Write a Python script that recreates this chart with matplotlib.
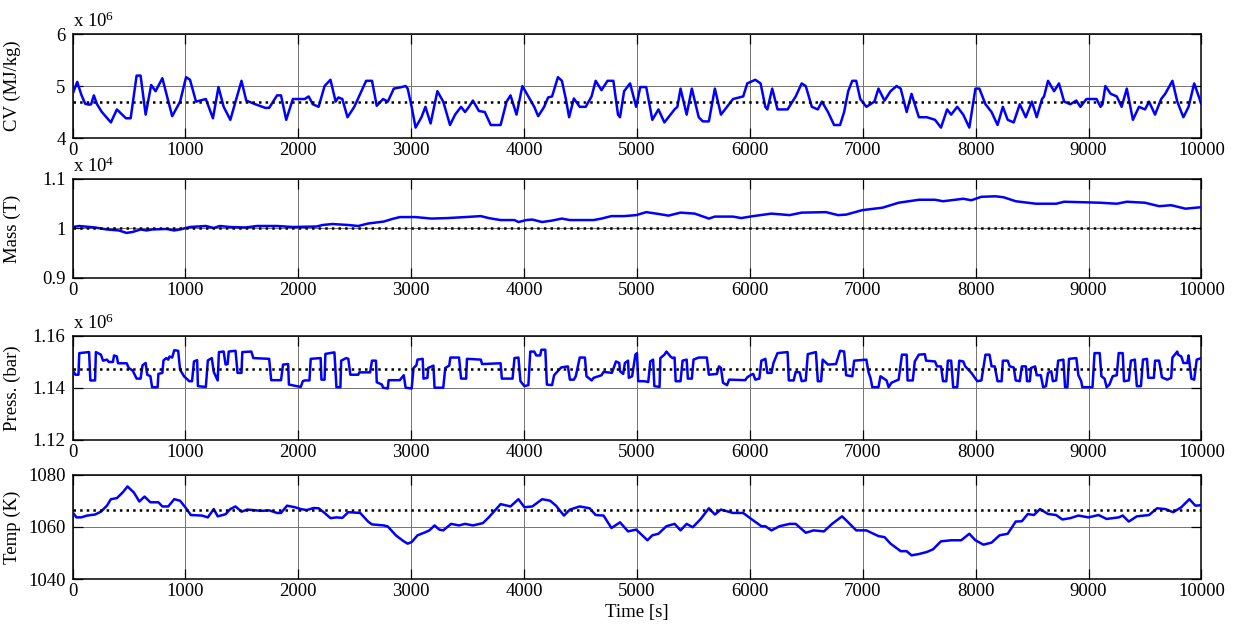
import numpy as np
import matplotlib
matplotlib.use("Agg")
import matplotlib.pyplot as plt
from matplotlib.ticker import FuncFormatter

plt.rcParams['font.family'] = ['Liberation Serif', 'DejaVu Serif']
plt.rcParams['mathtext.fontset'] = 'custom'
plt.rcParams['mathtext.rm'] = 'Liberation Serif'
plt.rcParams['mathtext.it'] = 'Liberation Serif:italic'

time_ticks = np.arange(0, 10001, 1000)

# (time [s], CV [x 1e6 MJ/kg])
cv = np.array([
    (0, 4.84), (42, 5.08), (77, 4.84), (112, 4.66), (147, 4.64), (165, 4.65),
    (189, 4.82), (217, 4.65), (260, 4.50), (340, 4.30), (393, 4.55), (473, 4.38),
    (515, 4.38), (568, 5.20), (603, 5.20), (648, 4.45), (697, 5.02), (736, 4.90),
    (796, 5.15), (883, 4.42), (953, 4.70), (1006, 5.17), (1041, 5.12), (1094, 4.70),
    (1181, 4.75), (1244, 4.38), (1293, 4.98), (1339, 4.60), (1398, 4.35), (1444, 4.70),
    (1497, 5.10), (1539, 4.72), (1619, 4.65), (1707, 4.58), (1742, 4.58), (1812, 4.82),
    (1847, 4.82), (1893, 4.35), (1952, 4.75), (2057, 4.75), (2092, 4.80), (2128, 4.65),
    (2180, 4.60), (2233, 5.00), (2285, 5.12), (2331, 4.70), (2355, 4.78), (2390, 4.75),
    (2436, 4.40), (2496, 4.60), (2548, 4.85), (2601, 5.10), (2653, 5.10), (2695, 4.62),
    (2751, 4.75), (2793, 4.70), (2846, 4.95), (2916, 4.98), (2951, 5.00), (2969, 4.95),
    (3004, 4.60), (3039, 4.20), (3091, 4.40), (3126, 4.60), (3172, 4.28), (3232, 4.90),
    (3284, 4.70), (3344, 4.25), (3389, 4.45), (3442, 4.60), (3477, 4.50), (3512, 4.60),
    (3547, 4.72), (3600, 4.52), (3652, 4.50), (3705, 4.25), (3792, 4.25), (3845, 4.70),
    (3880, 4.82), (3933, 4.45), (3985, 5.00), (4038, 4.80), (4090, 4.60), (4125, 4.42),
    (4178, 4.60), (4213, 4.78), (4248, 4.80), (4300, 5.17), (4335, 5.10), (4370, 4.75),
    (4399, 4.40), (4441, 4.76), (4493, 4.60), (4546, 4.60), (4598, 4.80), (4634, 5.10),
    (4686, 4.92), (4739, 5.10), (4791, 5.10), (4832, 4.45), (4850, 4.40), (4886, 4.90),
    (4939, 5.05), (4993, 4.60), (5029, 4.98), (5082, 4.98), (5136, 4.35), (5190, 4.55),
    (5243, 4.30), (5297, 4.45), (5333, 4.55), (5358, 4.60), (5386, 4.95), (5440, 4.45),
    (5486, 4.95), (5547, 4.40), (5583, 4.32), (5637, 4.32), (5690, 4.95), (5744, 4.45),
    (5798, 4.60), (5851, 4.75), (5941, 4.80), (5977, 5.05), (6048, 5.12), (6095, 5.05),
    (6137, 4.60), (6155, 4.55), (6198, 4.95), (6245, 4.55), (6334, 4.55), (6406, 4.80),
    (6459, 5.05), (6495, 5.00), (6549, 4.60), (6602, 4.55), (6638, 4.70), (6692, 4.50),
    (6746, 4.25), (6799, 4.25), (6835, 4.50), (6871, 4.90), (6907, 5.10), (6942, 5.10),
    (6978, 4.75), (7032, 4.60), (7103, 4.70), (7139, 4.95), (7193, 4.72), (7246, 4.90),
    (7300, 5.00), (7336, 4.95), (7389, 4.50), (7432, 4.85), (7497, 4.40), (7568, 4.40),
    (7640, 4.35), (7693, 4.20), (7747, 4.55), (7783, 4.45), (7837, 4.60), (7890, 4.45),
    (7944, 4.20), (7998, 4.95), (8033, 4.95), (8087, 4.65), (8141, 4.50), (8194, 4.25),
    (8241, 4.60), (8284, 4.35), (8337, 4.30), (8391, 4.65), (8444, 4.40), (8498, 4.70),
    (8541, 4.40), (8588, 4.75), (8606, 4.80), (8641, 5.10), (8695, 4.90), (8738, 5.05),
    (8784, 4.70), (8838, 4.65), (8892, 4.72), (8928, 4.60), (8981, 4.75), (9071, 4.75),
    (9106, 4.60), (9124, 4.65), (9149, 5.00), (9196, 4.85), (9250, 4.80), (9293, 4.60),
    (9339, 4.95), (9393, 4.35), (9447, 4.60), (9500, 4.55), (9536, 4.70), (9589, 4.45),
    (9643, 4.75), (9679, 4.85), (9743, 5.10), (9786, 4.70), (9840, 4.40), (9886, 4.60),
    (9936, 5.05), (10000, 4.65),
])

# (time [s], mass [x 1e4 T])
mass = np.array([
    (0, 1.003), (60, 1.005), (200, 1.002), (305, 0.998), (410, 0.996), (480, 0.991),
    (533, 0.993), (603, 0.998), (655, 0.996), (708, 0.998), (831, 0.999), (901, 0.996),
    (953, 0.998), (1041, 1.003), (1111, 1.004), (1181, 1.005), (1251, 1.001), (1304, 1.005),
    (1391, 1.003), (1532, 1.002), (1637, 1.005), (1812, 1.005), (1952, 1.003), (2163, 1.004),
    (2215, 1.007), (2303, 1.009), (2443, 1.007), (2531, 1.005), (2618, 1.010), (2758, 1.014),
    (2829, 1.019), (2899, 1.023), (3039, 1.023), (3179, 1.020), (3319, 1.021), (3477, 1.023),
    (3617, 1.025), (3687, 1.021), (3792, 1.017), (3915, 1.017), (3950, 1.013), (4020, 1.017),
    (4073, 1.018), (4160, 1.013), (4248, 1.016), (4335, 1.020), (4405, 1.017), (4616, 1.017),
    (4686, 1.020), (4774, 1.025), (4886, 1.025), (4993, 1.027), (5082, 1.033), (5172, 1.030),
    (5279, 1.026), (5386, 1.032), (5512, 1.030), (5637, 1.020), (5690, 1.024), (5851, 1.024),
    (5923, 1.021), (6030, 1.025), (6191, 1.030), (6352, 1.027), (6459, 1.032), (6674, 1.033),
    (6781, 1.027), (6853, 1.028), (6996, 1.037), (7175, 1.042), (7318, 1.052), (7497, 1.058),
    (7640, 1.058), (7711, 1.055), (7890, 1.060), (7962, 1.057), (8051, 1.064), (8176, 1.065),
    (8248, 1.063), (8355, 1.055), (8534, 1.050), (8713, 1.050), (8784, 1.054), (9106, 1.052),
    (9250, 1.050), (9339, 1.054), (9500, 1.052), (9625, 1.045), (9732, 1.047), (9858, 1.040),
    (10000, 1.043),
])

# (time [s], pressure [x 1e6 bar])
press = np.array([
    (0, 1.1470), (25, 1.1451), (53, 1.1451), (60, 1.1534), (147, 1.1538), (158, 1.1429),
    (200, 1.1429), (207, 1.1538), (252, 1.1528), (270, 1.1505), (305, 1.1509), (322, 1.1500),
    (358, 1.1500), (368, 1.1525), (393, 1.1521), (403, 1.1495), (480, 1.1495), (498, 1.1477),
    (533, 1.1467), (568, 1.1436), (603, 1.1436), (620, 1.1487), (648, 1.1496), (662, 1.1451),
    (690, 1.1445), (705, 1.1403), (754, 1.1403), (761, 1.1454), (796, 1.1458), (806, 1.1506),
    (831, 1.1515), (848, 1.1509), (859, 1.1521), (883, 1.1517), (901, 1.1545), (936, 1.1543),
    (953, 1.1470), (988, 1.1445), (1034, 1.1426), (1059, 1.1426), (1076, 1.1502), (1104, 1.1507),
    (1111, 1.1407), (1181, 1.1404), (1199, 1.1506), (1234, 1.1515), (1251, 1.1462), (1286, 1.1429),
    (1297, 1.1538), (1339, 1.1540), (1356, 1.1490), (1374, 1.1492), (1384, 1.1540), (1444, 1.1543),
    (1462, 1.1458), (1497, 1.1458), (1504, 1.1538), (1584, 1.1540), (1602, 1.1515), (1742, 1.1512),
    (1760, 1.1430), (1847, 1.1430), (1865, 1.1490), (1910, 1.1492), (1917, 1.1413), (2022, 1.1404),
    (2040, 1.1426), (2057, 1.1429), (2099, 1.1429), (2110, 1.1512), (2198, 1.1515), (2205, 1.1432),
    (2233, 1.1432), (2240, 1.1531), (2320, 1.1537), (2338, 1.1403), (2373, 1.1403), (2380, 1.1505),
    (2425, 1.1515), (2443, 1.1512), (2461, 1.1451), (2531, 1.1451), (2541, 1.1460), (2636, 1.1460),
    (2653, 1.1505), (2688, 1.1505), (2695, 1.1422), (2741, 1.1413), (2751, 1.1401), (2793, 1.1398),
    (2800, 1.1430), (2899, 1.1430), (2934, 1.1449), (2951, 1.1401), (3004, 1.1398), (3021, 1.1477),
    (3046, 1.1487), (3056, 1.1509), (3102, 1.1512), (3109, 1.1436), (3144, 1.1439), (3151, 1.1477),
    (3197, 1.1486), (3207, 1.1401), (3284, 1.1401), (3302, 1.1477), (3337, 1.1486), (3347, 1.1517),
    (3424, 1.1517), (3442, 1.1436), (3487, 1.1436), (3494, 1.1512), (3617, 1.1509), (3628, 1.1492),
    (3792, 1.1495), (3803, 1.1436), (3898, 1.1436), (3915, 1.1515), (3950, 1.1517), (3968, 1.1426),
    (4003, 1.1407), (4038, 1.1411), (4055, 1.1540), (4090, 1.1540), (4108, 1.1525), (4143, 1.1525),
    (4153, 1.1547), (4188, 1.1547), (4202, 1.1413), (4248, 1.1411), (4266, 1.1449), (4329, 1.1479),
    (4388, 1.1483), (4406, 1.1432), (4441, 1.1432), (4458, 1.1445), (4493, 1.1517), (4539, 1.1517),
    (4553, 1.1445), (4599, 1.1429), (4616, 1.1439), (4686, 1.1449), (4704, 1.1462), (4778, 1.1458),
    (4814, 1.1502), (4843, 1.1496), (4850, 1.1464), (4878, 1.1454), (4893, 1.1496), (4921, 1.1505),
    (4928, 1.1439), (4957, 1.1445), (4986, 1.1528), (5000, 1.1534), (5011, 1.1426), (5064, 1.1426),
    (5100, 1.1423), (5118, 1.1502), (5143, 1.1509), (5154, 1.1407), (5200, 1.1404), (5207, 1.1515),
    (5243, 1.1528), (5261, 1.1540), (5297, 1.1521), (5315, 1.1515), (5333, 1.1517), (5343, 1.1426),
    (5386, 1.1426), (5404, 1.1505), (5440, 1.1509), (5451, 1.1436), (5486, 1.1436), (5501, 1.1509),
    (5547, 1.1517), (5619, 1.1517), (5637, 1.1451), (5708, 1.1454), (5726, 1.1483), (5744, 1.1477),
    (5762, 1.1420), (5798, 1.1411), (5816, 1.1432), (5959, 1.1430), (5977, 1.1441), (6012, 1.1451),
    (6030, 1.1454), (6048, 1.1432), (6084, 1.1436), (6102, 1.1505), (6137, 1.1512), (6155, 1.1458),
    (6191, 1.1458), (6209, 1.1496), (6245, 1.1534), (6334, 1.1538), (6345, 1.1429), (6388, 1.1429),
    (6406, 1.1462), (6441, 1.1460), (6459, 1.1426), (6495, 1.1429), (6513, 1.1530), (6585, 1.1538),
    (6602, 1.1426), (6631, 1.1426), (6645, 1.1509), (6692, 1.1490), (6763, 1.1492), (6799, 1.1543),
    (6835, 1.1540), (6853, 1.1449), (6907, 1.1445), (6924, 1.1505), (7032, 1.1509), (7050, 1.1462),
    (7068, 1.1439), (7085, 1.1403), (7139, 1.1403), (7157, 1.1445), (7211, 1.1429), (7229, 1.1403),
    (7254, 1.1420), (7300, 1.1429), (7318, 1.1432), (7347, 1.1528), (7389, 1.1528), (7397, 1.1429),
    (7443, 1.1429), (7461, 1.1502), (7497, 1.1528), (7550, 1.1530), (7561, 1.1505), (7640, 1.1502),
    (7658, 1.1483), (7693, 1.1483), (7711, 1.1426), (7740, 1.1426), (7754, 1.1505), (7783, 1.1505),
    (7801, 1.1403), (7837, 1.1403), (7855, 1.1505), (7890, 1.1502), (7908, 1.1483), (7962, 1.1458),
    (8015, 1.1426), (8051, 1.1429), (8087, 1.1528), (8123, 1.1528), (8141, 1.1483), (8169, 1.1483),
    (8194, 1.1426), (8230, 1.1426), (8241, 1.1505), (8284, 1.1505), (8302, 1.1483), (8337, 1.1479),
    (8355, 1.1429), (8391, 1.1426), (8409, 1.1483), (8445, 1.1483), (8455, 1.1426), (8480, 1.1426),
    (8491, 1.1477), (8527, 1.1483), (8541, 1.1449), (8577, 1.1449), (8598, 1.1403), (8623, 1.1407),
    (8641, 1.1458), (8670, 1.1464), (8684, 1.1426), (8713, 1.1429), (8731, 1.1505), (8777, 1.1509),
    (8792, 1.1403), (8813, 1.1403), (8827, 1.1512), (8892, 1.1515), (8910, 1.1449), (8935, 1.1426),
    (8945, 1.1403), (9035, 1.1403), (9053, 1.1534), (9099, 1.1534), (9114, 1.1445), (9142, 1.1436),
    (9160, 1.1403), (9185, 1.1413), (9214, 1.1445), (9250, 1.1449), (9267, 1.1534), (9303, 1.1534),
    (9314, 1.1426), (9357, 1.1429), (9375, 1.1505), (9410, 1.1509), (9428, 1.1407), (9464, 1.1407),
    (9482, 1.1509), (9518, 1.1512), (9529, 1.1439), (9579, 1.1439), (9589, 1.1505), (9625, 1.1505),
    (9650, 1.1441), (9697, 1.1432), (9732, 1.1439), (9743, 1.1517), (9786, 1.1540), (9793, 1.1528),
    (9822, 1.1521), (9840, 1.1496), (9875, 1.1496), (9886, 1.1525), (9911, 1.1436), (9936, 1.1432),
    (9958, 1.1509), (10000, 1.1515),
])

# (time [s], temperature [K])
temp = np.array([
    (0, 1065.7), (35, 1063.7), (77, 1063.7), (130, 1064.4), (200, 1064.8), (252, 1065.9),
    (305, 1068.2), (340, 1070.7), (393, 1071.1), (445, 1073.3), (487, 1075.6), (543, 1073.3),
    (592, 1069.8), (638, 1071.7), (690, 1069.5), (761, 1069.5), (796, 1067.9), (848, 1067.9),
    (901, 1070.7), (953, 1070.1), (1006, 1067.2), (1048, 1064.6), (1146, 1064.4), (1199, 1063.7),
    (1251, 1066.9), (1286, 1064.1), (1356, 1064.9), (1398, 1066.9), (1444, 1067.9), (1497, 1065.9),
    (1549, 1066.7), (1672, 1066.2), (1742, 1066.4), (1812, 1065.4), (1847, 1065.4), (1900, 1068.2),
    (1970, 1067.6), (2022, 1066.9), (2075, 1066.5), (2135, 1067.3), (2180, 1067.2), (2233, 1065.4),
    (2285, 1063.4), (2338, 1063.7), (2390, 1063.5), (2443, 1065.7), (2548, 1065.4), (2618, 1062.1),
    (2653, 1061.0), (2758, 1060.6), (2793, 1060.2), (2864, 1056.8), (2934, 1054.5), (2969, 1053.6),
    (3004, 1054.2), (3056, 1056.8), (3126, 1058.0), (3161, 1058.7), (3207, 1060.6), (3249, 1059.0),
    (3284, 1058.7), (3354, 1061.2), (3424, 1060.6), (3477, 1061.2), (3547, 1060.6), (3635, 1061.5),
    (3687, 1063.7), (3792, 1068.8), (3880, 1067.9), (3950, 1070.7), (4003, 1067.6), (4073, 1067.9),
    (4160, 1070.7), (4231, 1070.1), (4283, 1068.2), (4353, 1064.4), (4406, 1066.7), (4493, 1067.9),
    (4581, 1067.2), (4634, 1064.6), (4704, 1064.4), (4774, 1059.6), (4850, 1061.8), (4921, 1058.3),
    (4993, 1059.0), (5047, 1056.8), (5093, 1054.9), (5136, 1056.8), (5190, 1057.4), (5261, 1060.3),
    (5333, 1061.2), (5386, 1058.7), (5440, 1061.2), (5494, 1059.9), (5565, 1063.1), (5637, 1067.2),
    (5690, 1064.8), (5744, 1066.7), (5851, 1065.4), (5941, 1065.4), (6012, 1063.1), (6102, 1060.3),
    (6137, 1060.3), (6191, 1058.7), (6263, 1060.3), (6352, 1061.2), (6406, 1061.2), (6495, 1057.8),
    (6566, 1058.7), (6656, 1058.3), (6728, 1061.2), (6817, 1064.1), (6871, 1061.8), (6942, 1058.7),
    (7032, 1058.7), (7139, 1056.5), (7193, 1056.1), (7246, 1053.6), (7336, 1050.7), (7389, 1050.7),
    (7432, 1049.1), (7497, 1049.6), (7568, 1050.4), (7622, 1051.4), (7693, 1054.5), (7783, 1054.9),
    (7872, 1054.9), (7944, 1057.4), (7998, 1054.9), (8069, 1053.2), (8141, 1054.0), (8212, 1056.8),
    (8284, 1057.4), (8355, 1062.1), (8409, 1062.2), (8462, 1065.0), (8516, 1064.6), (8570, 1066.9),
    (8641, 1065.0), (8713, 1064.6), (8767, 1062.9), (8838, 1063.4), (8910, 1064.4), (8999, 1063.7),
    (9089, 1064.6), (9160, 1063.1), (9267, 1063.7), (9303, 1064.4), (9357, 1062.1), (9428, 1064.1),
    (9536, 1064.6), (9607, 1067.2), (9679, 1066.9), (9750, 1065.7), (9822, 1067.6), (9893, 1070.7),
    (9947, 1068.2), (10000, 1068.4),
])

# reference (dotted) levels
cv_ref = 4.70
mass_ref = 1.000
press_ref = 1.1472
temp_ref = 1066.6

panels = [
    dict(data=cv, scale=1e6, exp='6', ref=cv_ref, ylim=(4, 6), yticks=[4, 5, 6],
         ylabel='CV (MJ/kg)', pos=[0.0588, 0.7788, 0.9156, 0.1667]),
    dict(data=mass, scale=1e4, exp='4', ref=mass_ref, ylim=(0.9, 1.1), yticks=[0.9, 1.0, 1.1],
         ylabel='Mass (T)', pos=[0.0588, 0.5545, 0.9156, 0.1587]),
    dict(data=press, scale=1e6, exp='6', ref=press_ref, ylim=(1.12, 1.16), yticks=[1.12, 1.14, 1.16],
         ylabel='Press. (bar)', pos=[0.0588, 0.2949, 0.9156, 0.1667]),
    dict(data=temp, scale=1.0, exp=None, ref=temp_ref, ylim=(1040, 1080), yticks=[1040, 1060, 1080],
         ylabel='Temp (K)', pos=[0.0588, 0.0721, 0.9156, 0.1667]),
]

fig = plt.figure(figsize=(12.33, 6.24), dpi=100)
fs = 13.5

for p in panels:
    ax = fig.add_axes(p['pos'])
    s = p['scale']
    t = p['data'][:, 0]
    v = p['data'][:, 1] * s

    ax.plot(t, v, color='#0000ff', lw=1.8, zorder=3,
            solid_joinstyle='round', solid_capstyle='round')
    ax.plot([0, 10000], [p['ref'] * s, p['ref'] * s], color='black', ls=':', lw=1.8, zorder=4)

    ax.set_xlim(0, 10000)
    ax.set_ylim(p['ylim'][0] * s, p['ylim'][1] * s)
    ax.set_xticks(time_ticks)
    ax.set_yticks([y * s for y in p['yticks']])
    ax.yaxis.set_major_formatter(FuncFormatter(lambda y, pos, s=s: '%g' % round(y / s, 6)))

    ax.grid(True, color='0.45', lw=0.7, ls='-')
    ax.set_axisbelow(True)
    ax.tick_params(direction='in', top=True, right=True, length=7, width=0.9,
                   labelsize=fs, pad=3)
    ax.tick_params(axis='y', pad=5)
    for sp in ax.spines.values():
        sp.set_linewidth(1.1)

    ax.set_ylabel(p['ylabel'], fontsize=fs)
    ax.yaxis.set_label_coords(-0.046, 0.5)

    if p['exp'] is not None:
        ax.text(0.0, 1.03, r'x 10$^{%s}$' % p['exp'], transform=ax.transAxes,
                ha='left', va='bottom', fontsize=fs)

ax.set_xlabel('Time [s]', fontsize=fs, labelpad=3)

fig.savefig('out.png', dpi=100)
